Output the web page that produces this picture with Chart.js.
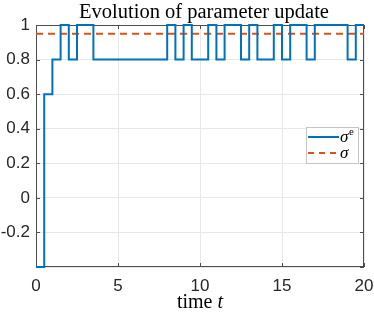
<!DOCTYPE html>
<html>
<head>
<meta charset="utf-8">
<script src="https://cdn.jsdelivr.net/npm/chart.js@4"></script>
<style>
  body { margin: 0; background: #fff; }
  canvas { display: block; }
</style>
</head>
<body>
<canvas id="grafico" width="374" height="312"></canvas>
<script>
// tiempos (paso 0.5)
const tiempos = [0, 0.5, 1, 1.5, 2, 2.5, 3, 3.5, 4, 4.5, 5, 5.5, 6, 6.5, 7, 7.5,
  8, 8.5, 9, 9.5, 10, 10.5, 11, 11.5, 12, 12.5, 13, 13.5, 14, 14.5, 15, 15.5,
  16, 16.5, 17, 17.5, 18, 18.5, 19, 19.5, 20];
// sigma^e estimada
const sigmaE = [-0.4, 0.6, 0.8, 1, 0.8, 1, 1, 0.8, 0.8, 0.8, 0.8, 0.8, 0.8, 0.8, 0.8, 0.8,
  1, 0.8, 1, 0.8, 0.8, 1, 0.8, 1, 1, 0.8, 1, 0.8, 0.8, 1, 0.8, 1,
  1, 0.8, 1, 1, 1, 1, 0.8, 1, 1];
// sigma real (constante)
const sigmaT = [0, 20];
const sigmaReal = [0.95, 0.95];
const xTicks = [0, 5, 10, 15, 20];
const yTicks = [-0.4, -0.2, 0, 0.2, 0.4, 0.6, 0.8, 1];

const azul = "#0072BD";
const naranja = "#D95319";
const ejeColor = "#4d4d4d";
const fuenteSans = '"Liberation Sans", Arial, sans-serif';
const fuenteSerif = '"Liberation Serif", "DejaVu Serif", serif';

const extras = {
  id: "extras",
  beforeDatasetsDraw(chart) {
    const { ctx, chartArea: a, scales } = chart;
    ctx.save();
    ctx.strokeStyle = ejeColor;
    ctx.lineWidth = 1;
    ctx.strokeRect(a.left + 0.5, a.top + 0.5, a.right - a.left - 1, a.bottom - a.top - 1);
    // ticks hacia dentro
    ctx.beginPath();
    xTicks.forEach((v) => {
      const x = Math.round(scales.x.getPixelForValue(v)) + 0.5;
      ctx.moveTo(x, a.bottom); ctx.lineTo(x, a.bottom - 4);
      ctx.moveTo(x, a.top); ctx.lineTo(x, a.top + 4);
    });
    yTicks.forEach((v) => {
      const y = Math.round(scales.y.getPixelForValue(v)) + 0.5;
      ctx.moveTo(a.left, y); ctx.lineTo(a.left + 4, y);
      ctx.moveTo(a.right, y); ctx.lineTo(a.right - 4, y);
    });
    ctx.stroke();
    ctx.restore();
  },
  afterDraw(chart) {
    const { ctx, chartArea: a } = chart;
    ctx.save();
    // titulo
    ctx.fillStyle = "#000";
    ctx.font = "20.5px " + fuenteSerif;
    ctx.textAlign = "center";
    ctx.textBaseline = "alphabetic";
    ctx.fillText("Evolution of parameter update", (a.left + a.right) / 2 + 4, 18);
    // etiqueta eje x: "time t"
    ctx.font = "20px " + fuenteSerif;
    const w1 = ctx.measureText("time ").width;
    ctx.font = "italic 20px " + fuenteSerif;
    const w2 = ctx.measureText("t").width;
    const x0 = (a.left + a.right) / 2 - (w1 + w2) / 2;
    ctx.textAlign = "left";
    ctx.font = "20px " + fuenteSerif;
    ctx.fillText("time ", x0, 308);
    ctx.font = "italic 20px " + fuenteSerif;
    ctx.fillText("t", x0 + w1, 308);

    // leyenda
    const lx = a.right - 58, ly = a.top + 102, lw = 52, lh = 36;
    ctx.fillStyle = "#fff";
    ctx.fillRect(lx, ly, lw, lh);
    ctx.strokeStyle = "#c4c4c4";
    ctx.lineWidth = 1;
    ctx.strokeRect(lx + 0.5, ly + 0.5, lw, lh);
    ctx.lineWidth = 2;
    ctx.strokeStyle = azul;
    ctx.beginPath(); ctx.moveTo(lx + 2, ly + 10); ctx.lineTo(lx + 33, ly + 10); ctx.stroke();
    ctx.strokeStyle = naranja;
    ctx.setLineDash([6, 5]);
    ctx.beginPath(); ctx.moveTo(lx + 2, ly + 26); ctx.lineTo(lx + 33, ly + 26); ctx.stroke();
    ctx.setLineDash([]);
    ctx.fillStyle = "#000";
    ctx.font = "italic 17px " + fuenteSerif;
    ctx.fillText("σ", lx + 34, ly + 15);
    ctx.fillText("σ", lx + 34, ly + 31);
    ctx.font = "11px " + fuenteSerif;
    ctx.fillText("e", lx + 43, ly + 8);
    ctx.restore();
  },
};

const ctx = document.getElementById("grafico").getContext("2d");
new Chart(ctx, {
  type: "line",
  data: {
    datasets: [
      {
        label: "σe",
        data: tiempos.map((t, i) => ({ x: t, y: sigmaE[i] })),
        borderColor: azul,
        borderWidth: 2,
        stepped: true,
        pointRadius: 0,
        clip: 4,
      },
      {
        label: "σ",
        data: sigmaT.map((t, i) => ({ x: t, y: sigmaReal[i] })),
        borderColor: naranja,
        borderWidth: 2,
        borderDash: [7, 5],
        pointRadius: 0,
        clip: 4,
      },
    ],
  },
  options: {
    responsive: false,
    animation: false,
    layout: { padding: { top: 25, right: 0, left: 0, bottom: 0 } },
    plugins: {
      legend: { display: false },
      title: { display: false },
      tooltip: { enabled: false },
    },
    scales: {
      x: {
        type: "linear",
        min: 0,
        max: 20,
        afterBuildTicks: (s) => { s.ticks = xTicks.map((v) => ({ value: v })); },
        ticks: { padding: 9, color: "#262626", font: { family: fuenteSans, size: 17 }, maxRotation: 0 },
        grid: { color: "#e8e8e8", drawTicks: false },
        border: { display: false },
        afterFit: (s) => { s.height = 45; s.paddingLeft = 0; s.paddingRight = 10; },
      },
      y: {
        min: -0.4,
        max: 1,
        afterBuildTicks: (s) => { s.ticks = yTicks.map((v) => ({ value: v })); },
        ticks: {
          padding: 6,
          color: "#262626",
          font: { family: fuenteSans, size: 17 },
          callback: (v) => (v <= -0.39 ? "" : String(Math.round(v * 10) / 10)),
        },
        grid: { color: "#e8e8e8", drawTicks: false },
        border: { display: false },
        afterFit: (s) => { s.width = 36; s.paddingTop = 0; s.paddingBottom = 0; },
      },
    },
  },
  plugins: [extras],
});
</script>
</body>
</html>
